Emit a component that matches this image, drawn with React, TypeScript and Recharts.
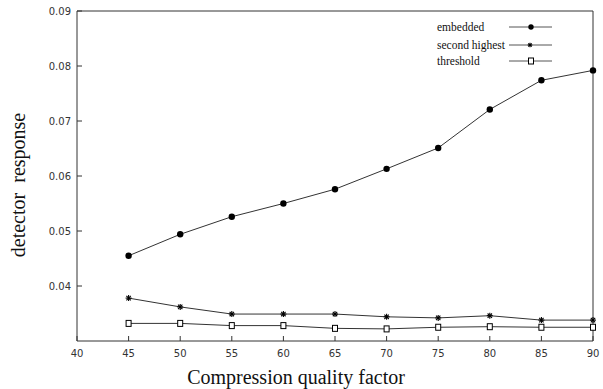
import React from "react";
import { LineChart, Line, XAxis, YAxis, Legend } from "recharts";

const quality = [45, 50, 55, 60, 65, 70, 75, 80, 85, 90];
const embedded = [0.0455, 0.0494, 0.0526, 0.055, 0.0576, 0.0613, 0.0651, 0.0721, 0.0774, 0.0792];
const secondHighest = [0.0378, 0.0362, 0.0349, 0.0349, 0.0349, 0.0344, 0.0342, 0.0346, 0.0338, 0.0338];
const threshold = [0.0332, 0.0332, 0.0328, 0.0328, 0.0323, 0.0322, 0.0325, 0.0326, 0.0325, 0.0325];
const xTicks = [40, 45, 50, 55, 60, 65, 70, 75, 80, 85, 90];
const yTicks = [0.04, 0.05, 0.06, 0.07, 0.08, 0.09];
const seriesNames = ["embedded", "second highest", "threshold"];

const data = quality.map((q, i) => ({
  q,
  embedded: embedded[i],
  second: secondHighest[i],
  threshold: threshold[i],
}));

const AX = "#333";
const tickFont = "'DejaVu Sans', sans-serif";
const serif = "'Liberation Serif', 'Times New Roman', serif";

const LeftTick = (p: any) => (
  <g>
    <line x1={p.x} x2={p.x + 5} y1={p.y} y2={p.y} stroke={AX} />
    <text x={p.x - 6} y={p.y + 4} textAnchor="end" fontSize={10} fontFamily={tickFont} fill="#333">
      {Number(p.payload.value).toFixed(2)}
    </text>
  </g>
);
const RightTick = (p: any) => (
  <line x1={p.x} x2={p.x - 5} y1={p.y} y2={p.y} stroke={AX} />
);
const BottomTick = (p: any) => (
  <g>
    <line x1={p.x} x2={p.x} y1={p.y} y2={p.y - 5} stroke={AX} />
    <text x={p.x} y={p.y + 16} textAnchor="middle" fontSize={10} fontFamily={tickFont} fill="#333">
      {p.payload.value}
    </text>
  </g>
);
const TopTick = (p: any) => (
  <line x1={p.x} x2={p.x} y1={p.y} y2={p.y + 5} stroke={AX} />
);

const CircleDot = (p: any) => <circle cx={p.cx} cy={p.cy} r={p.r0 || 3.2} fill="#000" />;
const StarDot = (p: any) => {
  const { cx, cy } = p;
  const s = p.s0 || 3;
  const d = s * 0.73;
  return (
    <g stroke="#000" strokeWidth={1.1}>
      <line x1={cx - s} x2={cx + s} y1={cy} y2={cy} />
      <line x1={cx} x2={cx} y1={cy - s} y2={cy + s} />
      <line x1={cx - d} x2={cx + d} y1={cy - d} y2={cy + d} />
      <line x1={cx - d} x2={cx + d} y1={cy + d} y2={cy - d} />
    </g>
  );
};
const SquareDot = (p: any) => (
  <rect x={p.cx - 2.5} y={p.cy - 3} width={5} height={6} fill="#fff" stroke="#000" strokeWidth={1} />
);

const LegendBox = () => {
  const rows = [13, 31, 47];
  return (
    <svg width={170} height={60}>
      {seriesNames.map((n, i) => (
        <g key={n}>
          <text x={7} y={rows[i] + 3.5} fontSize={11.5} style={{ fontFamily: serif }} fill="#111">
            {n}
          </text>
          <line x1={79} x2={122} y1={rows[i]} y2={rows[i]} stroke="#555" />
          {i === 0 && <CircleDot cx={101} cy={rows[i]} r0={2.7} />}
          {i === 1 && <StarDot cx={100} cy={rows[i]} s0={2.3} />}
          {i === 2 && <SquareDot cx={101} cy={rows[i]} />}
        </g>
      ))}
    </svg>
  );
};

export default function App() {
  return (
    <div style={{ position: "absolute", left: 0, top: 0, width: 603, height: 389, background: "#fff" }}>
      <LineChart width={603} height={389} data={data} margin={{ top: 0, right: 0, left: 0, bottom: 0 }}>
        <XAxis
          dataKey="q"
          type="number"
          domain={[40, 90]}
          ticks={xTicks}
          height={48}
          stroke={AX}
          tickLine={false}
          tickSize={0}
          tickMargin={0}
          tick={<BottomTick />}
          interval={0}
        />
        <XAxis
          xAxisId="t"
          orientation="top"
          type="number"
          domain={[40, 90]}
          ticks={xTicks}
          height={11}
          stroke={AX}
          tickLine={false}
          tickSize={0}
          tickMargin={0}
          tick={<TopTick />}
          interval={0}
        />
        <YAxis
          type="number"
          domain={[0.03, 0.09]}
          ticks={yTicks}
          width={77}
          stroke={AX}
          tickLine={false}
          tickSize={0}
          tickMargin={0}
          tick={<LeftTick />}
          interval={0}
        />
        <YAxis
          yAxisId="r"
          orientation="right"
          type="number"
          domain={[0.03, 0.09]}
          ticks={yTicks}
          width={10}
          stroke={AX}
          tickLine={false}
          tickSize={0}
          tickMargin={0}
          tick={<RightTick />}
          interval={0}
        />
        <Legend
          layout="vertical"
          align="center"
          verticalAlign="middle"
          content={<LegendBox />}
          wrapperStyle={{ position: "absolute", left: 430, top: 14, width: 170, height: 60 }}
        />
        <Line dataKey="embedded" stroke="#333" strokeWidth={1} dot={<CircleDot />} isAnimationActive={false} />
        <Line dataKey="second" stroke="#333" strokeWidth={1} dot={<StarDot />} isAnimationActive={false} />
        <Line dataKey="threshold" stroke="#333" strokeWidth={1} dot={<SquareDot />} isAnimationActive={false} />
        <text x={296} y={384} textAnchor="middle" fontSize={20} fontFamily={serif} fill="#111">
          Compression quality factor
        </text>
        <text
          x={25}
          y={185}
          transform="rotate(-90 25 185)"
          textAnchor="middle"
          fontSize={20}
          fontFamily={serif}
          fill="#111"
          style={{ whiteSpace: "pre" }}
        >
          {"detector  response"}
        </text>
      </LineChart>
    </div>
  );
}
